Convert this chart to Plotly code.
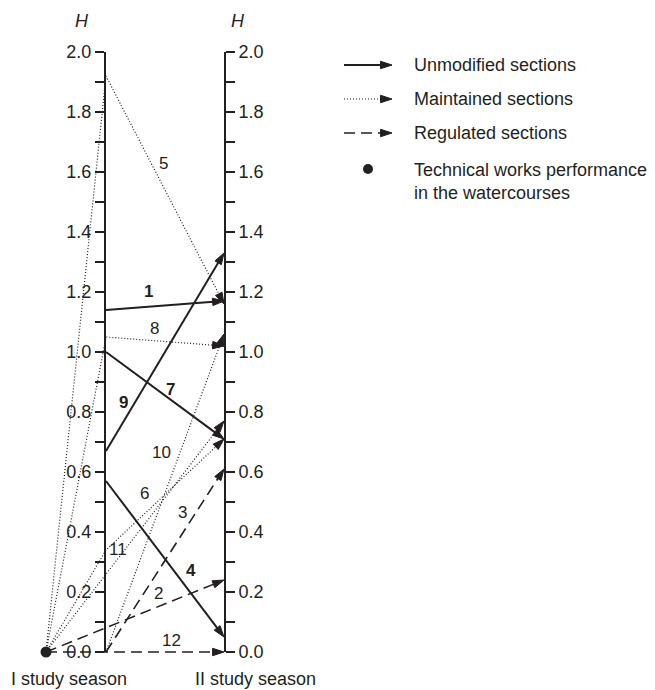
import plotly.graph_objects as go

# ---------------- data ----------------
# H values in the I and II study seasons
unmod_labels = ["1", "9", "7", "4"]
unmod_season1 = [1.14, 0.67, 1.00, 0.57]
unmod_season2 = [1.17, 1.33, 0.71, 0.05]

maint_labels = ["5", "8", "10", "11", "6"]
maint_from_works = [True, True, False, True, True]     # starts at the technical-works point
maint_season1 = [1.92, 1.05, 0.00, 0.34, None]          # None -> straight to season II
maint_season2 = [1.16, 1.02, 1.06, 0.71, 0.77]

reg_labels = ["2", "3", "12"]
reg_from_works = [True, False, True]
reg_season1 = [None, 0.00, None]
reg_season2 = [0.24, 0.61, 0.00]

tick_major = [0.0, 0.2, 0.4, 0.6, 0.8, 1.0, 1.2, 1.4, 1.6, 1.8, 2.0]
tick_minor = [0.1, 0.3, 0.5, 0.7, 0.9, 1.1, 1.3, 1.5, 1.7, 1.9]
tick_text = ["0.0", "0.2", "0.4", "0.6", "0.8", "1.0", "1.2", "1.4", "1.6", "1.8", "2.0"]

legend_items = ["Unmodified sections", "Maintained sections", "Regulated sections",
                "Technical works performance<br>in the watercourses"]

# ---------------- layout constants ----------------
W, HT = 655, 690
C = "#231f20"
FONT = "Arial, Liberation Sans, sans-serif"
X_WORKS, X_S1, X_S2 = -60 / 118, 0.0, 1.0     # horizontal positions (x units)
PXX0, PXX = 106, 118                          # px of season I axis, px per x unit
PXY0, PXY = 652, 300                          # px of H=0, px per H unit


def dx(px):
    return (px - PXX0) / PXX


def dy(py):
    return (PXY0 - py) / PXY


ARROW = 12
fig = go.Figure()


def add_arrow(xs, ys, dash, width):
    sizes = [0] * (len(xs) - 1) + [ARROW]
    fig.add_trace(go.Scatter(
        x=xs, y=ys, mode="lines+markers",
        line=dict(color=C, width=width, dash=dash),
        marker=dict(symbol="arrow", size=sizes, angleref="previous", color=C,
                    opacity=1, line=dict(width=1, color=C)),
        hoverinfo="skip", showlegend=False, cliponaxis=False))


SOLID = dict(dash="solid", width=2)
DOT = dict(dash="1px,2px", width=1.2)
DASH = dict(dash="11px,6px", width=1.6)

for s1, s2 in zip(unmod_season1, unmod_season2):
    add_arrow([X_S1, X_S2], [s1, s2], **SOLID)

for fw, s1, s2 in zip(maint_from_works, maint_season1, maint_season2):
    xs, ys = [], []
    if fw:
        xs.append(X_WORKS); ys.append(0.0)
    if s1 is not None:
        xs.append(X_S1); ys.append(s1)
    xs.append(X_S2); ys.append(s2)
    add_arrow(xs, ys, **DOT)

for fw, s1, s2 in zip(reg_from_works, reg_season1, reg_season2):
    xs, ys = [], []
    if fw:
        xs.append(X_WORKS); ys.append(0.0)
    if s1 is not None:
        xs.append(X_S1); ys.append(s1)
    xs.append(X_S2); ys.append(s2)
    add_arrow(xs, ys, **DASH)

# technical works point
fig.add_trace(go.Scatter(x=[X_WORKS], y=[0.0], mode="markers",
                         marker=dict(symbol="circle", size=11, color=C),
                         hoverinfo="skip", showlegend=False, cliponaxis=False))

# line number labels (positions, px)
label_pos = {
    "5": (163, 163), "1": (148, 291), "8": (154, 328), "9": (123, 402),
    "7": (170, 389), "10": (161, 452), "6": (144, 493), "3": (182, 512),
    "11": (118, 549), "4": (191, 570), "2": (158, 593), "12": (171, 640),
}
bold = set(unmod_labels)
for lab, (px, py) in label_pos.items():
    txt = f"<b>{lab}</b>" if lab in bold else lab
    fig.add_annotation(x=dx(px), y=dy(py), text=txt, showarrow=False,
                       font=dict(size=17, color=C, family=FONT),
                       xanchor="center", yanchor="middle")

# legend
leg_rows = [65, 99, 133]
leg_styles = [SOLID, DOT, DASH]
for py, st in zip(leg_rows, leg_styles):
    add_arrow([dx(344), dx(392)], [dy(py), dy(py)], **st)
fig.add_trace(go.Scatter(x=[dx(368)], y=[dy(169)], mode="markers",
                         marker=dict(symbol="circle", size=10, color=C),
                         hoverinfo="skip", showlegend=False, cliponaxis=False))
for py, txt in zip(leg_rows + [181], legend_items):
    fig.add_annotation(x=dx(412), y=dy(py), text=txt, showarrow=False,
                       font=dict(size=18, color=C, family=FONT),
                       xanchor="left", yanchor="middle", align="left")

# axis titles and season labels
for px in (82, 238):
    fig.add_annotation(x=px / W, y=1 - 21 / HT, xref="paper", yref="paper",
                       text="<i>H</i>", showarrow=False,
                       xanchor="center", yanchor="middle",
                       font=dict(size=18, color=C, family=FONT))
for px, txt in ((69, "I study season"), (255, "II study season")):
    fig.add_annotation(x=px / W, y=1 - 679 / HT, xref="paper", yref="paper",
                       text=txt, showarrow=False,
                       xanchor="center", yanchor="middle",
                       font=dict(size=18, color=C, family=FONT))

# invisible traces to create the two season axes (anchored to hidden x axes
# whose domain edges sit on the season positions)
fig.add_trace(go.Scatter(x=[None], y=[None], xaxis="x2", yaxis="y2", showlegend=False))
fig.add_trace(go.Scatter(x=[None], y=[None], xaxis="x3", yaxis="y3", showlegend=False))

ydom = [(HT - PXY0) / HT, (HT - (PXY0 - 2 * PXY)) / HT]
axis_common = dict(
    domain=ydom, range=[0, 2], automargin=False,
    showline=True, linecolor=C, linewidth=2,
    ticks="outside", ticklen=9, tickwidth=2, tickcolor=C,
    tickmode="array", tickvals=tick_major, ticktext=tick_text,
    minor=dict(tickmode="array", tickvals=tick_minor, ticks="outside",
               ticklen=9, tickwidth=2, tickcolor=C, showgrid=False),
    showgrid=False, zeroline=False, fixedrange=True,
    tickfont=dict(size=18, color=C, family=FONT),
)
hidden_x = dict(visible=False, fixedrange=True, automargin=False, range=[0, 1])

fig.update_layout(
    width=W, height=HT,
    margin=dict(l=0, r=0, t=0, b=0, pad=0, autoexpand=False),
    paper_bgcolor="white", plot_bgcolor="rgba(0,0,0,0)",
    showlegend=False,
    xaxis=dict(range=[dx(0), dx(W)], visible=False, fixedrange=True, automargin=False),
    yaxis=dict(range=[dy(HT), dy(0)], visible=False, fixedrange=True, automargin=False),
    xaxis2=dict(domain=[PXX0 / W, 1], anchor="y2", **hidden_x),
    xaxis3=dict(domain=[0, (PXX0 + PXX) / W], anchor="y3", **hidden_x),
    yaxis2=dict(side="left", anchor="x2", **axis_common),
    yaxis3=dict(side="right", anchor="x3", **axis_common),
    font=dict(family=FONT, color=C),
)

fig.write_html("out.html", config={"displayModeBar": False, "staticPlot": True},
               post_script="document.body.style.margin='0';document.body.style.overflow='hidden';")
